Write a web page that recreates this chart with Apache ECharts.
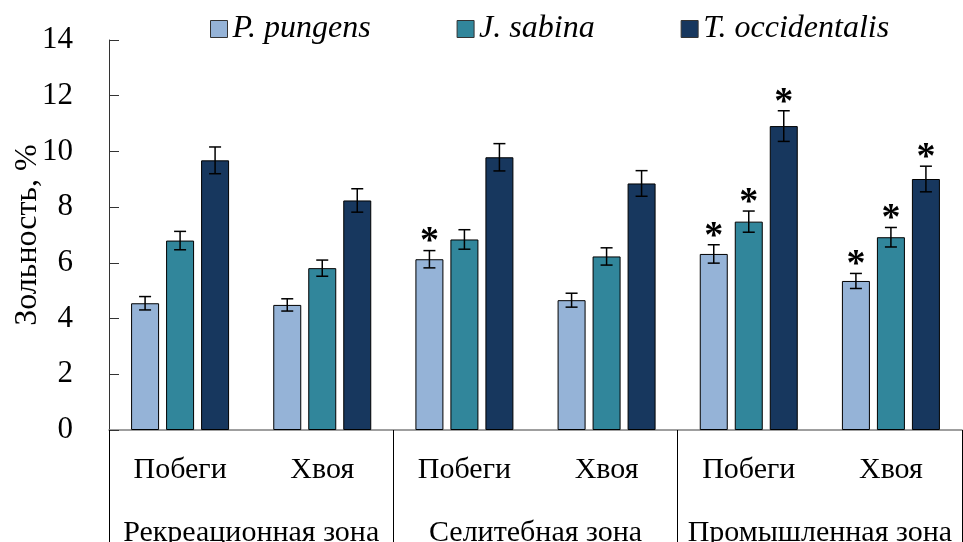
<!DOCTYPE html>
<html>
<head>
<meta charset="utf-8">
<script src="https://cdn.jsdelivr.net/npm/echarts@6/dist/echarts.min.js"></script>
<style>
  html, body { margin: 0; padding: 0; background: #fff; }
  #chart { width: 963px; height: 542px; }
</style>
</head>
<body>
<div id="chart"></div>
<script>
var FONT = "'Liberation Serif', 'Times New Roman', serif"

// категории и зоны
var categories = ['Побеги', 'Хвоя', 'Побеги', 'Хвоя', 'Побеги', 'Хвоя']
var zones = ['Рекреационная зона', 'Селитебная зона', 'Промышленная зона']

// значения зольности, %
var pungens = [4.55, 4.49, 6.13, 4.66, 6.32, 5.35]
var pungensErr = [0.24, 0.22, 0.31, 0.25, 0.33, 0.27]
var pungensSig = [0, 0, 1, 0, 1, 1]

var sabina = [6.80, 5.81, 6.84, 6.23, 7.48, 6.92]
var sabinaErr = [0.33, 0.29, 0.35, 0.31, 0.38, 0.35]
var sabinaSig = [0, 0, 0, 0, 1, 1]

var occidentalis = [9.68, 8.24, 9.79, 8.85, 10.91, 9.01]
var occidentalisErr = [0.48, 0.42, 0.49, 0.46, 0.55, 0.46]
var occidentalisSig = [0, 0, 0, 0, 1, 1]

var BAR_W = 28
var BAR_STEP = 35

function barSeries(name, values, color) {
  return {
    name: name,
    type: 'bar',
    data: values,
    barWidth: BAR_W,
    barGap: '25%',
    itemStyle: { color: color, borderColor: '#000', borderWidth: 1 }
  }
}

// усы погрешности и звёздочки
function errSeries(name, values, errs, sig, pos) {
  return {
    name: name + ' err',
    type: 'custom',
    xAxisIndex: 0,
    z: 5,
    data: values.map(function (v, i) { return [i, v, errs[i], sig[i]] }),
    renderItem: function (params, api) {
      var idx = api.value(0)
      var v = api.value(1)
      var e = api.value(2)
      var x = api.coord([idx, v])[0] + pos * BAR_STEP
      var top = api.coord([idx, v + e])[1]
      var bot = api.coord([idx, v - e])[1]
      var st = { stroke: '#000', lineWidth: 1.5 }
      var children = [
        { type: 'line', shape: { x1: x, y1: top, x2: x, y2: bot }, style: st },
        { type: 'line', shape: { x1: x - 6, y1: top, x2: x + 6, y2: top }, style: st },
        { type: 'line', shape: { x1: x - 6, y1: bot, x2: x + 6, y2: bot }, style: st }
      ]
      if (api.value(3)) {
        children.push({
          type: 'text',
          style: {
            text: '*', x: x, y: top - 8,
            align: 'center', verticalAlign: 'middle',
            font: 'bold 38px ' + FONT, fill: '#000'
          }
        })
      }
      return { type: 'group', children: children }
    }
  }
}

var chart = echarts.init(document.getElementById('chart'))

var option = {
  animation: false,
  textStyle: { fontFamily: FONT, color: '#000' },
  legend: {
    data: ['P. pungens', 'J. sabina', 'T. occidentalis'],
    top: 8,
    left: 205,
    itemWidth: 17,
    itemHeight: 17,
    itemGap: 86,
    icon: 'rect',
    itemStyle: { borderColor: '#333', borderWidth: 1 },
    textStyle: { fontFamily: FONT, fontSize: 32, fontStyle: 'italic', color: '#000' }
  },
  grid: { left: 109, right: 1, top: 40, bottom: 112, outerBoundsMode: 'none' },
  xAxis: [
    {
      type: 'category',
      data: categories,
      axisLine: { show: true, lineStyle: { color: '#808080', width: 1.5 } },
      axisTick: { show: false },
      axisLabel: { fontFamily: FONT, fontSize: 30, color: '#000', margin: 25, interval: 0 }
    },
    {
      type: 'category',
      data: zones,
      position: 'bottom',
      axisLine: { show: false },
      axisTick: { show: true, length: 112, interval: 0, lineStyle: { color: '#000', width: 1 } },
      axisLabel: { fontFamily: FONT, fontSize: 30, color: '#000', margin: 88, interval: 0 }
    }
  ],
  yAxis: {
    type: 'value',
    min: 0,
    max: 14,
    interval: 2,
    name: 'Зольность, %',
    nameLocation: 'middle',
    nameGap: 65,
    nameMoveOverlap: false,
    nameTextStyle: { fontFamily: FONT, fontSize: 32, color: '#000' },
    axisLine: { show: true, lineStyle: { color: '#333', width: 1 } },
    axisTick: { show: true, inside: true, length: 10, lineStyle: { color: '#333' } },
    axisLabel: { fontFamily: FONT, fontSize: 31, color: '#000', margin: 36 },
    splitLine: { show: false }
  },
  series: [
    barSeries('P. pungens', pungens, '#95b3d7'),
    barSeries('J. sabina', sabina, '#31869b'),
    barSeries('T. occidentalis', occidentalis, '#17375e'),
    errSeries('P. pungens', pungens, pungensErr, pungensSig, -1),
    errSeries('J. sabina', sabina, sabinaErr, sabinaSig, 0),
    errSeries('T. occidentalis', occidentalis, occidentalisErr, occidentalisSig, 1)
  ]
}

chart.setOption(option)
</script>
</body>
</html>
